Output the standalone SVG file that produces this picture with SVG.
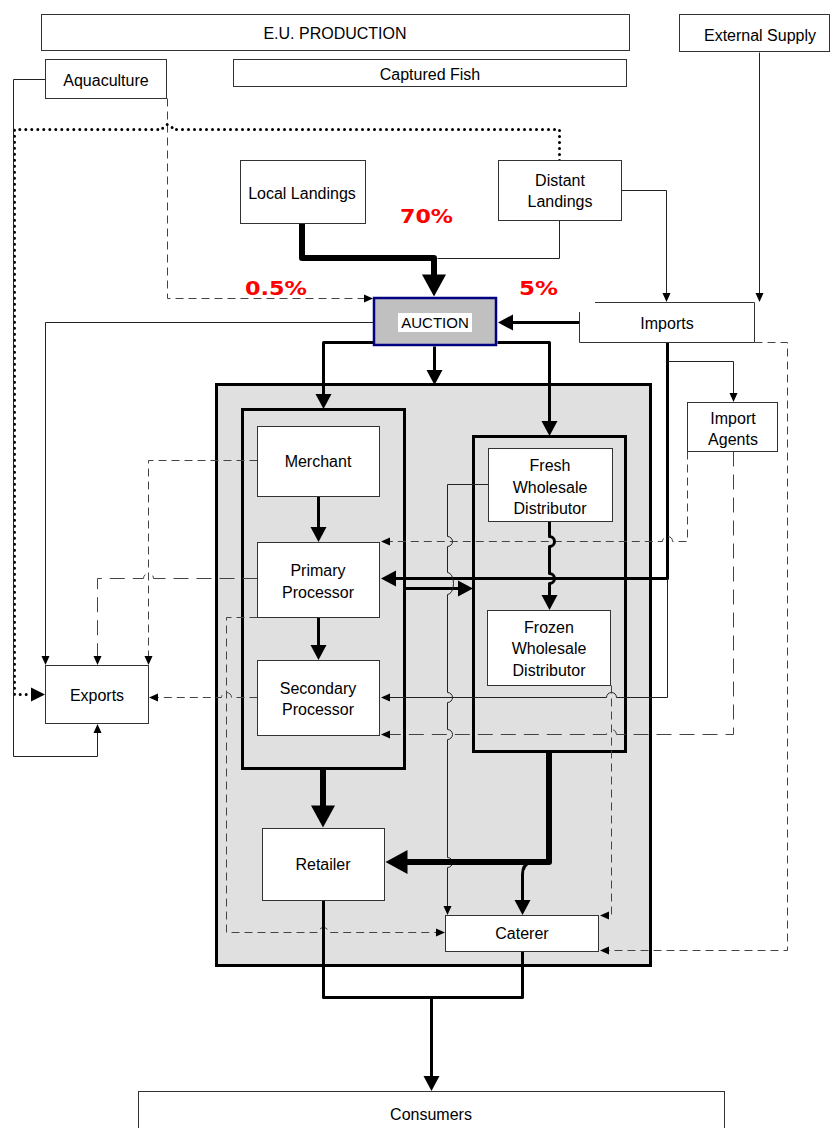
<svg xmlns="http://www.w3.org/2000/svg" width="830" height="1128" viewBox="0 0 830 1128">
<style>
.box{fill:#fff;stroke:#333;stroke-width:1}
.grp{fill:none;stroke:#000;stroke-width:3}
.t{font-family:"Liberation Sans",Arial,sans-serif;font-size:16px;text-anchor:middle;fill:#000}
.pct{font-family:"DejaVu Sans","Liberation Sans",sans-serif;font-size:20px;font-weight:bold;fill:#ff0000}
.thin{fill:none;stroke:#222;stroke-width:1}
.dash{fill:none;stroke:#444;stroke-width:1;stroke-dasharray:8 5}
.ldash{fill:none;stroke:#444;stroke-width:1;stroke-dasharray:15 8}
.dot{fill:none;stroke:#000;stroke-width:3;stroke-dasharray:0 6;stroke-linecap:round}
.th3{fill:none;stroke:#000;stroke-width:3;stroke-linejoin:round}
.th5{fill:none;stroke:#000;stroke-width:6;stroke-linejoin:round}
</style>
<defs>
<marker id="ah1" markerUnits="userSpaceOnUse" markerWidth="10" markerHeight="10" refX="0.5" refY="4" orient="auto" overflow="visible"><path d="M0,0 L9,4 L0,8z" fill="#000"/></marker>
<marker id="ah3" markerUnits="userSpaceOnUse" markerWidth="16" markerHeight="16" refX="0.5" refY="8" orient="auto" overflow="visible"><path d="M0,0 L15,8 L0,16z" fill="#000"/></marker>
<marker id="ah5" markerUnits="userSpaceOnUse" markerWidth="24" markerHeight="24" refX="0.5" refY="12" orient="auto" overflow="visible"><path d="M0,0 L22,12 L0,24z" fill="#000"/></marker>
<marker id="ahd" markerUnits="userSpaceOnUse" markerWidth="16" markerHeight="16" refX="0.5" refY="7" orient="auto" overflow="visible"><path d="M0,0 L14,7 L0,14z" fill="#000"/></marker>
</defs>
<rect width="830" height="1128" fill="#fff"/>

<g id="containers">
<rect id="distribution" x="216.5" y="384.5" width="434" height="581" fill="#e0e0e0" stroke="#000" stroke-width="3"/>
<rect id="processing-group" x="242.5" y="409.5" width="162" height="359" class="grp"/>
<rect id="wholesale-group" x="473.5" y="436.5" width="152" height="315" class="grp"/>
</g>

<g id="connectors">
<g transform="translate(0.5,0.5)">
<path class="thin" d="M559,220 V258 H437"/>
<path class="thin" d="M621,190 H666 V293" marker-end="url(#ah1)"/>
<path class="thin" d="M759,52 V293" marker-end="url(#ah1)"/>
<path class="dash" d="M167,98 V298 H364" marker-end="url(#ah1)"/>
<path class="dot" d="M559,160 V129 H172 A5,5 0 0 0 162,129 H14 V694 H31" marker-end="url(#ahd)"/>
<path class="thin" d="M45,79 H13 V756 H97 V732" marker-end="url(#ah1)"/>
<path class="th3" d="M579,322 H512" marker-end="url(#ah3)"/>
<path class="dash" d="M754,342 H787 V950 H608" marker-end="url(#ah1)"/>
<path class="th3" d="M667,342 V578 H395" marker-end="url(#ah3)"/>
<path class="thin" d="M667,361 H733 V393" marker-end="url(#ah1)"/>
<path class="dash" d="M687,451 V541 H672 A5,5 0 0 0 662,541 H389" marker-end="url(#ah1)"/>
<path class="ldash" d="M733,451 V734 H616 A5,5 0 0 0 606,734 H389" marker-end="url(#ah1)"/>
<path class="thin" d="M667,578 V697 H616 A5,5 0 0 0 606,697 H389" marker-end="url(#ah1)"/>
<path class="thin" d="M373,322 H45 V656" marker-end="url(#ah1)"/>
<path class="th3" d="M373,342 H323 V394" marker-end="url(#ah3)"/>
<path class="th3" d="M434,346 V370" marker-end="url(#ah3)"/>
<path class="th3" d="M497,342 H549 V421" marker-end="url(#ah3)"/>
<path class="th3" d="M318,496 V527" marker-end="url(#ah3)"/>
<path class="th3" d="M318,617 V645" marker-end="url(#ah3)"/>
<path class="dash" d="M257,460 H148 V656" marker-end="url(#ah1)"/>
<path class="ldash" d="M257,578 H153 A5,5 0 0 0 143,578 H97 V656" marker-end="url(#ah1)"/>
<path class="dash" d="M257,697 H231 A5,5 0 0 0 221,697 H157" marker-end="url(#ah1)"/>
<path class="dash" d="M257,617 H226 V932 H318 A5,5 0 0 1 328,932 H436" marker-end="url(#ah1)"/>
<path class="th3" d="M403,588 H458" marker-end="url(#ah3)"/>
<path class="th3" d="M549,521 V536 A5,5 0 0 1 549,546 V573 A5,5 0 0 1 549,583 V595" marker-end="url(#ah3)"/>
<path class="thin" d="M488,484 H447 V536 A5,5 0 0 1 447,546 V572 A6,11 0 0 1 447,594 V692 A5,5 0 0 1 447,702 V729 A5,5 0 0 1 447,739 V857 A5,5 0 0 1 447,867 V906" marker-end="url(#ah1)"/>
<path class="th3" d="M530,862 Q522,864 522,874 V900" marker-end="url(#ah3)"/>
<path class="dash" d="M611,685 V915 H608" marker-end="url(#ah1)"/>
<path class="th3" d="M323,900 V997 H522 V951"/>
<path class="th3" d="M431,997 V1076" marker-end="url(#ah3)"/>
</g>
<path class="th5" d="M302,223 V258 H434 V275" marker-end="url(#ah5)"/>
<path class="th5" d="M323,769 V806" marker-end="url(#ah5)"/>
<path class="th5" d="M549,752 V862 H407" marker-end="url(#ah5)"/>
</g>

<g id="eu-production"><rect class="box" x="41.5" y="14.5" width="588" height="36"/><text class="t" x="335" y="39">E.U. PRODUCTION</text></g>
<g id="captured-fish"><rect class="box" x="233.5" y="59.5" width="393" height="27"/><text class="t" x="430" y="80">Captured Fish</text></g>
<g id="aquaculture"><rect class="box" x="45.5" y="59.5" width="121" height="39"/><text class="t" x="106" y="86">Aquaculture</text></g>
<g id="external-supply"><rect class="box" x="679.5" y="14.5" width="150" height="37"/><text class="t" x="760" y="41">External Supply</text></g>
<g id="local-landings"><rect class="box" x="240.5" y="160.5" width="125" height="63"/><text class="t" x="302" y="199">Local Landings</text></g>
<g id="distant-landings"><rect class="box" x="498.5" y="160.5" width="123" height="60"/><text class="t" x="560" y="186">Distant</text><text class="t" x="560" y="207">Landings</text></g>
<g id="auction"><rect x="374" y="298" width="122" height="47" fill="#c0c0c0" stroke="#000080" stroke-width="2.5"/><rect x="398" y="313" width="74" height="19" fill="#fff"/><text class="t" x="435" y="328" style="font-size:15px">AUCTION</text></g>
<g id="imports"><path d="M595,302.5 H754.5 V342.5 H579.5 V312" fill="#fff" stroke="#333" stroke-width="1"/><text class="t" x="667" y="329">Imports</text></g>
<g id="import-agents"><rect class="box" x="687.5" y="402.5" width="90" height="49"/><text class="t" x="733" y="424">Import</text><text class="t" x="733" y="445">Agents</text></g>
<g id="exports"><rect class="box" x="45.5" y="665.5" width="103" height="58"/><text class="t" x="97" y="701">Exports</text></g>
<g id="merchant"><rect class="box" x="257.5" y="426.5" width="122" height="70"/><text class="t" x="318" y="467">Merchant</text></g>
<g id="primary-processor"><rect class="box" x="257.5" y="542.5" width="122" height="75"/><text class="t" x="318" y="576">Primary</text><text class="t" x="318" y="598">Processor</text></g>
<g id="secondary-processor"><rect class="box" x="257.5" y="660.5" width="122" height="75"/><text class="t" x="318" y="694">Secondary</text><text class="t" x="318" y="715">Processor</text></g>
<g id="fresh-wholesale"><rect class="box" x="488.5" y="448.5" width="124" height="73"/><text class="t" x="550" y="471">Fresh</text><text class="t" x="550" y="493">Wholesale</text><text class="t" x="550" y="514">Distributor</text></g>
<g id="frozen-wholesale"><rect class="box" x="487.5" y="610.5" width="123" height="75"/><text class="t" x="549" y="633">Frozen</text><text class="t" x="549" y="654">Wholesale</text><text class="t" x="549" y="676">Distributor</text></g>
<g id="retailer"><rect class="box" x="262.5" y="828.5" width="122" height="72"/><text class="t" x="323" y="870">Retailer</text></g>
<g id="caterer"><rect class="box" x="445.5" y="915.5" width="153" height="36"/><text class="t" x="522" y="939">Caterer</text></g>
<g id="consumers"><rect class="box" x="138.5" y="1091.5" width="586" height="50"/><text class="t" x="431" y="1120">Consumers</text></g>

<g id="percentages">
<text class="pct" x="400" y="223" textLength="53" lengthAdjust="spacingAndGlyphs">70%</text>
<text class="pct" x="245" y="295" textLength="62" lengthAdjust="spacingAndGlyphs">0.5%</text>
<text class="pct" x="519" y="295" textLength="39" lengthAdjust="spacingAndGlyphs">5%</text>
</g>
</svg>
